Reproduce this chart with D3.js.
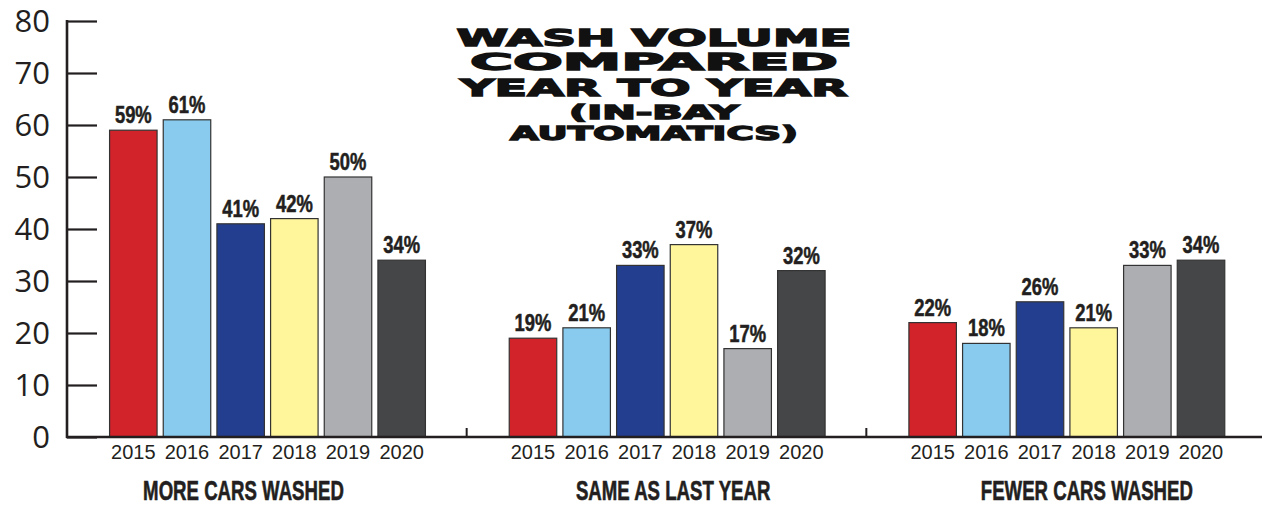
<!DOCTYPE html>
<html><head><meta charset="utf-8">
<script src="https://cdn.jsdelivr.net/npm/d3@7"></script>
<style>
body{margin:0;background:#fff;}
svg{display:block;}
</style></head>
<body><svg id="c" width="1262" height="507"></svg>
<script>
const categories = ["MORE CARS WASHED", "SAME AS LAST YEAR", "FEWER CARS WASHED"];
const years = ["2015", "2016", "2017", "2018", "2019", "2020"];
const more = [59, 61, 41, 42, 50, 34];
const same = [19, 21, 33, 37, 17, 32];
const fewer = [22, 18, 26, 21, 33, 34];
const yTicks = [0, 10, 20, 30, 40, 50, 60, 70, 80];
const titleLines = ["WASH VOLUME", "COMPARED", "YEAR TO YEAR", "(IN-BAY", "AUTOMATICS)"];
const colors = ["#d2232a", "#88cbee", "#233e8e", "#fff59b", "#adaeb1", "#454648"];

const series = [more, same, fewer];
const svg = d3.select("#c");
const ink = "#231f20";
const labelShift = [-24, 6, 20];

const y = d3.scaleLinear().domain([0, 80]).range([437, 21]);
const gx = d3.scaleBand().domain(categories).range([67, 1266]).paddingInner(0).paddingOuter(0);
const bx = d3.scaleBand().domain(years).range([41.5, 359.5]).paddingInner(0.115).paddingOuter(0.02);

function squeeze(sel, k) {
  sel.each(function(){
    const t = d3.select(this);
    const cx = +t.attr("x");
    t.attr("transform", `translate(${cx},0) scale(${k},1) translate(${-cx},0)`);
  });
}

// y axis
const ax = svg.append("g").attr("transform", "translate(67,0)")
  .call(d3.axisRight(y).tickValues(yTicks).tickSize(30).tickFormat(""));
ax.select(".domain").remove();
ax.selectAll(".tick line").attr("stroke", ink).attr("stroke-width", 2.2);
svg.append("line").attr("x1", 67).attr("x2", 67).attr("y1", y(80) - 1).attr("y2", y(0) + 1)
  .attr("stroke", ink).attr("stroke-width", 2.6);
svg.selectAll("text.ytl").data(yTicks).join("text").attr("class", "ytl")
  .attr("x", 50).attr("y", d => y(d) + 11)
  .attr("text-anchor", "end").attr("font-family", "'Open Sans', 'Liberation Sans', sans-serif")
  .attr("font-size", 31).attr("fill", ink).text(d => d);

// groups
const g = svg.selectAll("g.grp").data(categories).join("g").attr("class", "grp")
  .attr("transform", d => `translate(${gx(d)},0)`);

g.selectAll("rect").data((d, i) => series[i].map((v, j) => ({v, yr: years[j], c: colors[j]})))
  .join("rect")
  .attr("x", d => bx(d.yr)).attr("width", bx.bandwidth())
  .attr("y", d => y(d.v)).attr("height", d => y(0) - y(d.v))
  .attr("fill", d => d.c).attr("stroke", "#333").attr("stroke-width", 1.2);

g.selectAll("text.val").data((d, i) => series[i].map((v, j) => ({v, yr: years[j]})))
  .join("text").attr("class", "val")
  .attr("x", d => bx(d.yr) + bx.bandwidth() / 2).attr("y", d => y(d.v) - 7)
  .attr("text-anchor", "middle")
  .attr("font-family", "'Liberation Sans', Arial, sans-serif")
  .attr("font-weight", "bold").attr("font-size", 23).attr("fill", ink)
  .attr("stroke", ink).attr("stroke-width", 0.5)
  .text(d => d.v + "%")
  .call(squeeze, 0.8);

g.selectAll("text.yr").data(years).join("text").attr("class", "yr")
  .attr("x", d => bx(d) + bx.bandwidth() / 2).attr("y", 459)
  .attr("text-anchor", "middle").attr("font-family", "'Liberation Sans', Arial, sans-serif")
  .attr("font-size", 20).attr("fill", ink).text(d => d);

g.append("text").attr("class", "cat")
  .attr("x", (d, i) => (bx.range()[0] + bx.range()[1]) / 2 + labelShift[i]).attr("y", 500)
  .attr("text-anchor", "middle")
  .attr("font-family", "'Liberation Sans', Arial, sans-serif")
  .attr("font-weight", "bold").attr("font-size", 27).attr("fill", ink)
  .attr("stroke", ink).attr("stroke-width", 0.6)
  .text(d => d)
  .call(squeeze, 0.69);

// baseline and group separators
svg.append("line").attr("x1", 66).attr("x2", 1262).attr("y1", y(0)).attr("y2", y(0))
  .attr("stroke", ink).attr("stroke-width", 2.6);
svg.selectAll("line.sep").data(categories.slice(1)).join("line").attr("class", "sep")
  .attr("x1", d => gx(d)).attr("x2", d => gx(d)).attr("y1", y(0)).attr("y2", y(0) - 9)
  .attr("stroke", ink).attr("stroke-width", 2);

// title
const tl = [
  {w: 395, y: 46, fs: 23},
  {w: 368, y: 70, fs: 23},
  {w: 388, y: 96, fs: 23},
  {w: 170, y: 119, fs: 19},
  {w: 288, y: 140, fs: 19}
];
svg.selectAll("text.title").data(titleLines).join("text").attr("class", "title")
  .attr("x", (d, i) => 654 - tl[i].w / 2).attr("y", (d, i) => tl[i].y)
  .attr("textLength", (d, i) => tl[i].w).attr("lengthAdjust", "spacingAndGlyphs")
  .attr("font-family", "'DejaVu Sans', sans-serif").attr("font-weight", "bold")
  .attr("font-size", (d, i) => tl[i].fs).attr("fill", "#111")
  .attr("stroke", "#111").attr("stroke-width", 1.3)
  .text(d => d);
</script></body></html>
